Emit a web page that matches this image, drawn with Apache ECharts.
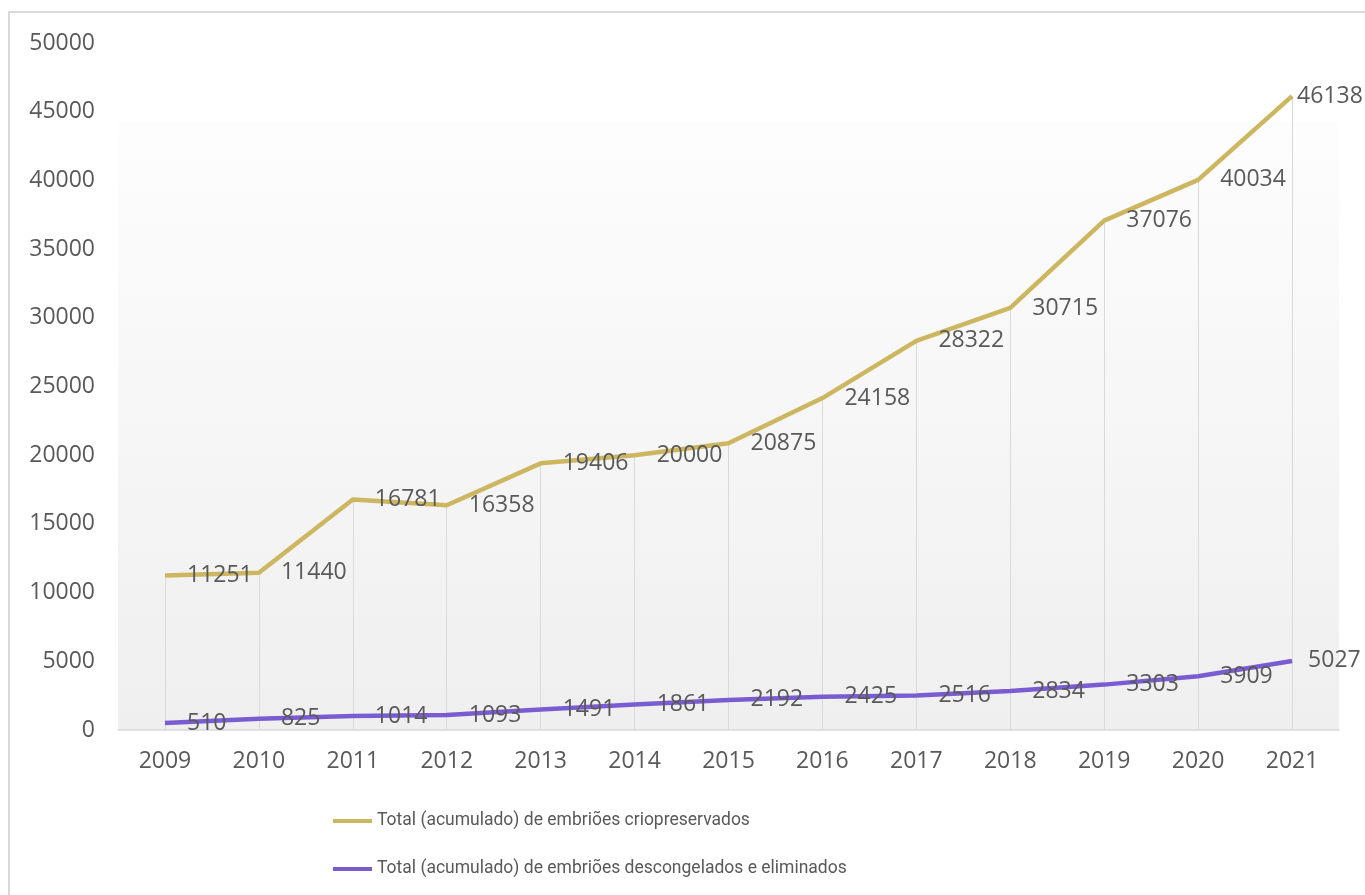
<!DOCTYPE html>
<html>
<head>
<meta charset="utf-8">
<style>
  html, body { margin: 0; padding: 0; background: #ffffff; }
  #chart { width: 1365px; height: 895px; }
</style>
<script src="https://cdn.jsdelivr.net/npm/echarts@6/dist/echarts.min.js"></script>
</head>
<body>
<div id="chart"></div>
<script>
const years = ['2009','2010','2011','2012','2013','2014','2015','2016','2017','2018','2019','2020','2021'];
const cryoName = 'Total (acumulado) de embriões criopreservados';
const cryo = [11251, 11440, 16781, 16358, 19406, 20000, 20875, 24158, 28322, 30715, 37076, 40034, 46138];
const thawName = 'Total (acumulado) de embriões descongelados e eliminados';
const thaw = [510, 825, 1014, 1093, 1491, 1861, 2192, 2425, 2516, 2834, 3303, 3909, 5027];
const yTicks = { min: 0, max: 50000, interval: 5000 };

const GOLD = '#CCB660';
const PURPLE = '#7A5CD2';
const TXT = '#595959';
const FONT = '"Open Sans", sans-serif';

function labelled(arr, lastDist) {
  return arr.map((v, i) => i === arr.length - 1
    ? { value: v, label: { distance: lastDist, offset: [0, 1] } }
    : v);
}

const dropLines = cryo.map((v, i) => [
  { xAxis: i, yAxis: 0 },
  { xAxis: i, yAxis: v }
]);

const chart = echarts.init(document.getElementById('chart'), null, { renderer: 'canvas' });
chart.setOption({
  animation: false,
  backgroundColor: '#ffffff',
  graphic: [{
    type: 'rect', silent: true, z: -10,
    shape: { x: 9, y: 12, width: 1420, height: 960 },
    style: { fill: 'none', stroke: '#d9d9d9', lineWidth: 2 }
  }],
  grid: { left: 118, right: 26, top: 43, bottom: 165, containLabel: false },
  legend: {
    orient: 'vertical',
    left: 328, top: 807,
    itemWidth: 39, itemHeight: 4, itemGap: 30,
    icon: 'rect',
    textStyle: { color: TXT, fontSize: 17.5, fontFamily: 'Roboto, sans-serif' },
    data: [cryoName, thawName]
  },
  xAxis: {
    type: 'category',
    data: years,
    boundaryGap: true,
    axisLine: { lineStyle: { color: '#d9d9d9', width: 1.5 } },
    axisTick: { show: false },
    axisLabel: { color: TXT, fontSize: 23, fontFamily: FONT, margin: 20 },
    splitLine: { show: false }
  },
  yAxis: {
    type: 'value',
    min: yTicks.min, max: yTicks.max, interval: yTicks.interval,
    axisLine: { show: false },
    axisTick: { show: false },
    axisLabel: { color: TXT, fontSize: 23, fontFamily: FONT, margin: 23, formatter: v => String(v) },
    splitLine: { show: false }
  },
  series: [
    {
      name: cryoName,
      type: 'line',
      data: labelled(cryo, 5),
      color: GOLD,
      lineStyle: { color: GOLD, width: 4.5 },
      showSymbol: true,
      symbol: 'circle',
      symbolSize: 0.1,
      z: 5,
      label: {
        show: true, position: 'right', distance: 22, offset: [0, 4],
        color: TXT, fontSize: 23, fontFamily: FONT
      },
      labelLayout: { hideOverlap: false },
      markArea: {
        silent: true,
        z: -1,
        itemStyle: {
          color: new echarts.graphic.LinearGradient(0, 0, 0, 1, [
            { offset: 0, color: '#fdfdfd' },
            { offset: 1, color: '#efefef' }
          ])
        },
        data: [[{ yAxis: 0 }, { yAxis: 44250 }]]
      },
      markLine: {
        silent: true,
        symbol: 'none',
        label: { show: false },
        lineStyle: { color: '#d9d9d9', width: 1, type: 'solid' },
        data: dropLines
      }
    },
    {
      name: thawName,
      type: 'line',
      data: labelled(thaw, 16),
      color: PURPLE,
      lineStyle: { color: PURPLE, width: 4.5 },
      showSymbol: true,
      symbol: 'circle',
      symbolSize: 0.1,
      z: 5,
      label: {
        show: true, position: 'right', distance: 22, offset: [0, 4],
        color: TXT, fontSize: 23, fontFamily: FONT
      },
      labelLayout: { hideOverlap: false }
    }
  ]
});
</script>
</body>
</html>
